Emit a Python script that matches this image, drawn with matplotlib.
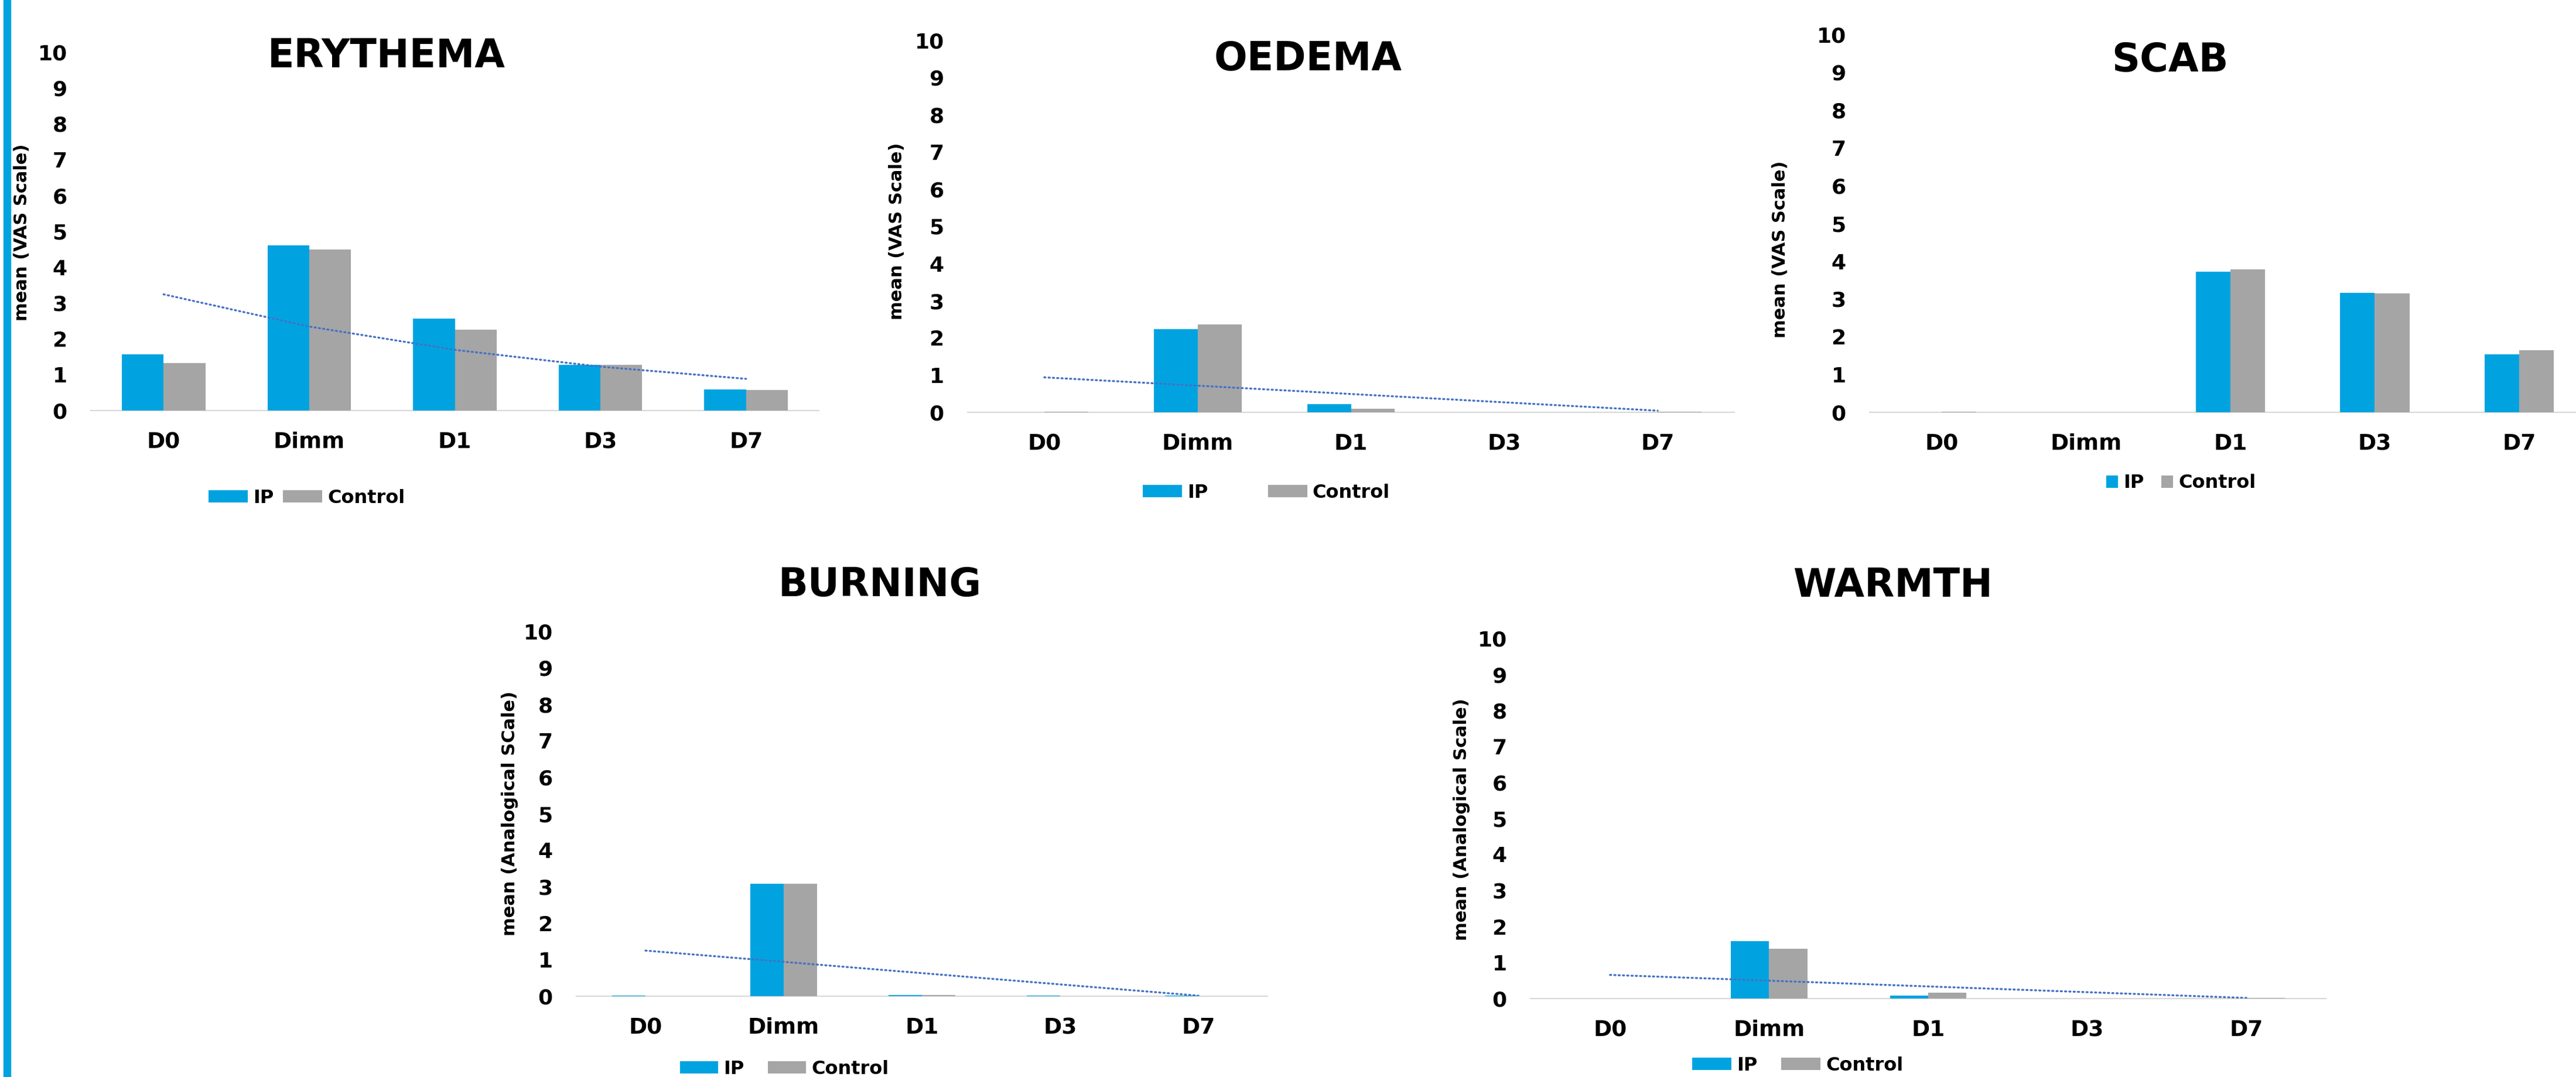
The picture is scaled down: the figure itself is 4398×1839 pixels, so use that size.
"""Five small bar charts (IP vs Control) of mean VAS / analogical scale scores."""
import numpy as np
import matplotlib
matplotlib.use("Agg")
import matplotlib.pyplot as plt
from matplotlib.patches import Rectangle

plt.rcParams["font.family"] = ["DejaVu Sans"]
plt.rcParams["font.weight"] = "bold"

# ── data ────────────────────────────────────────────
categories = ["D0", "Dimm", "D1", "D3", "D7"]
series_names = ["IP", "Control"]

erythema_ip = [1.57, 4.61, 2.57, 1.27, 0.59]
erythema_ctrl = [1.33, 4.49, 2.25, 1.27, 0.57]
oedema_ip = [0.0, 2.24, 0.22, 0.0, 0.0]
oedema_ctrl = [0.02, 2.36, 0.09, 0.0, 0.02]
scab_ip = [0.0, 0.0, 3.72, 3.16, 1.53]
scab_ctrl = [0.02, 0.0, 3.78, 3.14, 1.64]
burning_ip = [0.02, 3.08, 0.04, 0.01, 0.01]
burning_ctrl = [0.0, 3.08, 0.03, 0.0, 0.0]
warmth_ip = [0.0, 1.60, 0.08, 0.0, 0.0]
warmth_ctrl = [0.0, 1.39, 0.16, 0.0, 0.02]

yticks = list(range(0, 11))

IP_COLOR = "#00A3E0"
CTRL_COLOR = "#A5A5A5"
TREND_COLOR = "#4472C4"
AXIS_COLOR = "#D9D9D9"

W, H = 4398, 1839
fig = plt.figure(figsize=(W / 100, H / 100), dpi=100)
fig.patch.set_facecolor("white")

# left accent stripe
fig.patches.append(Rectangle((6 / W, 0), 12 / W, 1, transform=fig.transFigure,
                             color=IP_COLOR, zorder=0))


def fx(x):
    return x / W


def fy(y):
    return 1 - y / H


# panel layout in pixels: axis left/right, y of 0 and of 10, title, ylabel, legend
panels = [
    dict(title="ERYTHEMA", ip=erythema_ip, ctrl=erythema_ctrl, trend="exp",
         ylabel="mean (VAS Scale)", box=(155, 1398, 701, 89), bw=0.287,
         title_xy=(660, 115), ylab_xy=(38, 397),
         leg_xy=(356, 850), hl=2.1, cs=0.5),
    dict(title="OEDEMA", ip=oedema_ip, ctrl=oedema_ctrl, trend="linear",
         ylabel="mean (VAS Scale)", box=(1652, 2961, 704, 69), bw=0.286,
         title_xy=(2233, 120), ylab_xy=(1531, 395),
         leg_xy=(1951, 841), hl=2.1, cs=3.2),
    dict(title="SCAB", ip=scab_ip, ctrl=scab_ctrl, trend=None,
         ylabel="mean (VAS Scale)", box=(3192, 4424, 704, 59), bw=0.24,
         title_xy=(3705, 122), ylab_xy=(3040, 426),
         leg_xy=(3596, 825), hl=0.62, cs=0.95),
    dict(title="BURNING", ip=burning_ip, ctrl=burning_ctrl, trend="linear",
         ylabel="mean (Analogical SCale)", box=(984, 2164, 1701, 1078), bw=0.24,
         title_xy=(1502, 1018), ylab_xy=(870, 1389),
         leg_xy=(1161, 1825), hl=2.05, cs=1.25),
    dict(title="WARMTH", ip=warmth_ip, ctrl=warmth_ctrl, trend="linear",
         ylabel="mean (Analogical Scale)", box=(2613, 3971, 1705, 1090), bw=0.241,
         title_xy=(3231, 1019), ylab_xy=(2496, 1399),
         leg_xy=(2889, 1819), hl=2.1, cs=1.28),
]

x = np.arange(len(categories))

for p in panels:
    L, R, y0, y10 = p["box"]
    ax = fig.add_axes([fx(L), fy(y0), (R - L) / W, (y0 - y10) / H])
    ax.set_facecolor("none")
    bw = p["bw"]
    ax.bar(x - bw / 2, p["ip"], width=bw, color=IP_COLOR, label=series_names[0], zorder=2)
    ax.bar(x + bw / 2, p["ctrl"], width=bw, color=CTRL_COLOR, label=series_names[1], zorder=2)

    # trendline fitted on the IP series (as the spreadsheet did)
    ip = np.asarray(p["ip"], dtype=float)
    xs = x + 1.0
    if p["trend"] == "exp":
        b, a = np.polyfit(xs, np.log(ip), 1)
        ax.plot(x, np.exp(a + b * xs), color=TREND_COLOR, lw=2.4,
                linestyle=(0, (0.6, 1.6)), dash_capstyle="round", zorder=3)
    elif p["trend"] == "linear":
        b, a = np.polyfit(xs, ip, 1)
        ax.plot(x, a + b * xs, color=TREND_COLOR, lw=2.4,
                linestyle=(0, (0.6, 1.6)), dash_capstyle="round", zorder=3)

    ax.set_xlim(-0.5, len(categories) - 0.5)
    ax.set_ylim(0, 10)
    ax.set_yticks(yticks)
    ax.set_yticklabels([str(t) for t in yticks])
    ax.set_xticks(x)
    ax.set_xticklabels(categories)
    for s in ("top", "right", "left"):
        ax.spines[s].set_visible(False)
    ax.spines["bottom"].set_color(AXIS_COLOR)
    ax.spines["bottom"].set_linewidth(1.6)
    ax.spines["bottom"].set_zorder(1)
    ax.tick_params(axis="y", length=0, pad=29, labelsize=26)
    ax.tick_params(axis="x", length=0, pad=26, labelsize=27)
    for lab in ax.get_xticklabels() + ax.get_yticklabels():
        lab.set_fontweight("bold")

    fig.text(fx(p["title_xy"][0]), fy(p["title_xy"][1]), p["title"],
             ha="center", va="baseline", fontsize=48, fontweight="bold")
    fig.text(fx(p["ylab_xy"][0]), fy(p["ylab_xy"][1]), p["ylabel"],
             ha="center", va="center", rotation=90, fontsize=22, fontweight="bold")

    ax.legend(loc="center left", bbox_to_anchor=(fx(p["leg_xy"][0]), fy(p["leg_xy"][1])),
              bbox_transform=fig.transFigure, ncol=2, frameon=False, fontsize=23,
              handlelength=p["hl"], handleheight=0.62, handletextpad=0.28,
              columnspacing=p["cs"], borderpad=0, borderaxespad=0,
              prop={"weight": "bold", "size": 23})

fig.savefig("out.png", dpi=100, facecolor="white")
